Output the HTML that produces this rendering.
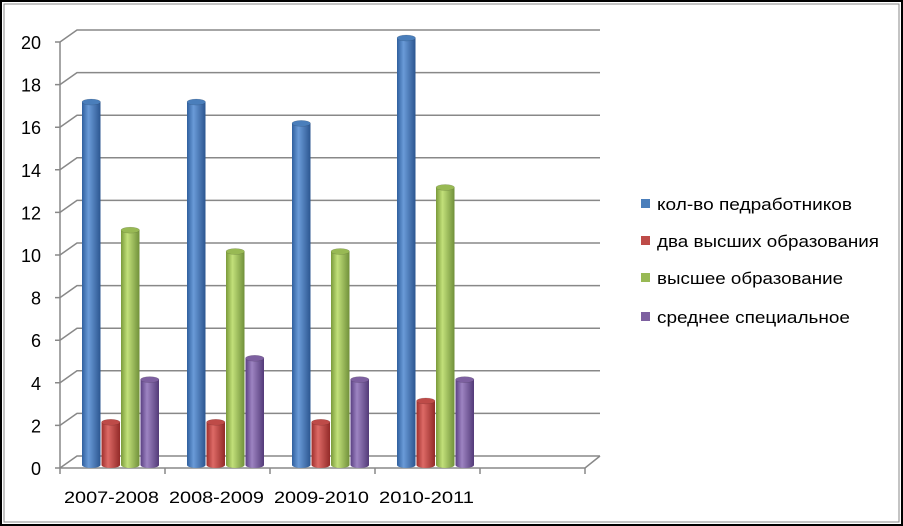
<!DOCTYPE html>
<html><head><meta charset="utf-8"><style>
body{margin:0;background:#fff}
#c{position:absolute;left:0;top:0;width:903px;height:526px}
text{font-family:"Liberation Sans",sans-serif;fill:#000}
</style></head><body>
<svg id="c" width="903" height="526" viewBox="0 0 903 526">
<defs>
<linearGradient id="g0" x1="0" x2="1"><stop offset="0" stop-color="#2f5f9e"/><stop offset="0.35" stop-color="#6a9bd8"/><stop offset="1" stop-color="#2c5690"/></linearGradient>
<linearGradient id="g1" x1="0" x2="1"><stop offset="0" stop-color="#9e2f2c"/><stop offset="0.35" stop-color="#dd6a66"/><stop offset="1" stop-color="#932a28"/></linearGradient>
<linearGradient id="g2" x1="0" x2="1"><stop offset="0" stop-color="#7a9a3a"/><stop offset="0.35" stop-color="#c2e07a"/><stop offset="1" stop-color="#70903a"/></linearGradient>
<linearGradient id="g3" x1="0" x2="1"><stop offset="0" stop-color="#5a3f82"/><stop offset="0.35" stop-color="#9d84c2"/><stop offset="1" stop-color="#533a78"/></linearGradient>
</defs>
<rect x="1" y="1" width="901" height="524" fill="#fff" stroke="#000" stroke-width="2"/>
<rect x="4" y="4" width="895" height="518" fill="none" stroke="#888" stroke-width="1"/>
<g id="grid"></g><g id="bars"></g><g id="legend"></g>
</svg>
<script>
const categories=["2007-2008","2008-2009","2009-2010","2010-2011"];
const seriesNames=["кол-во педработников","два высших образования","высшее образование","среднее специальное"];
const s0=[17,17,16,20];
const s1=[2,2,2,3];
const s2=[11,10,10,13];
const s3=[4,5,4,4];
const series=[s0,s1,s2,s3];
const yTicks=[0,2,4,6,8,10,12,14,16,18,20];
const colors=["#4a7ebb","#be4b48","#98b954","#7d60a0"];
const NS="http://www.w3.org/2000/svg";
function el(t,a,p){const e=document.createElementNS(NS,t);for(const k in a)e.setAttribute(k,a[k]);p.appendChild(e);return e;}
const yFront=v=>468-v*21.3, yBase=v=>465-v*21.35;
const slot=105, x0=60;
const grid=document.getElementById('grid');
el('line',{x1:60,y1:yFront(0),x2:60,y2:yFront(20),stroke:'#888','stroke-width':1.5},grid);
yTicks.forEach(v=>{
 const y=yFront(v);
 const g=el('polyline',{points:`55,${y} 60,${y} 77,${y-12} 600,${y-12}`,fill:'none',stroke:'#888','stroke-width':1.5},grid);
 
 
 const t=el('text',{x:41,y:y+7,'font-size':18,'text-anchor':'end'},grid);t.textContent=v;
 
 
});
el('polyline',{points:`60,468 585,468 600,456`,fill:'none',stroke:'#888','stroke-width':1.5},grid);
for(let i=0;i<=5;i++){el('line',{x1:x0+i*slot,y1:468,x2:x0+i*slot,y2:474,stroke:'#888','stroke-width':1.5},grid);}
categories.forEach((c,i)=>{
 const t=el('text',{x:x0+slot*i+4,y:503,'font-size':17,textLength:95,lengthAdjust:'spacingAndGlyphs'},grid);t.textContent=c;
 
 
});
const bars=document.getElementById('bars');
series.forEach((s,si)=>{
 s.forEach((v,ci)=>{
  const xl=x0+ci*slot+22+si*19.5, w=18.5, cx=xl+w/2, rx=w/2, ry=3;
  const top=yBase(v), base=465;
  const g=el('g',{},bars);
  
  
  el('path',{d:`M${xl},${top} L${xl},${base} A${rx},${ry} 0 0 0 ${xl+w},${base} L${xl+w},${top} Z`,fill:`url(#g${si})`},g);
  el('ellipse',{cx:cx,cy:top,rx:rx,ry:ry,fill:colors[si],stroke:'#00000033','stroke-width':0.5},g);
 });
});
const lg=document.getElementById('legend');
const ly=[207,244,281,320];
const lw=[195,222,186,193];
seriesNames.forEach((n,i)=>{
 const g=el('g',{},lg);
 
 
 el('rect',{x:641,y:ly[i]-8,width:9,height:9,fill:colors[i]},g);
 const t=el('text',{x:657,y:ly[i]+3,'font-size':17,textLength:lw[i],lengthAdjust:'spacingAndGlyphs'},g);t.textContent=n;
});
</script>
</body></html>
